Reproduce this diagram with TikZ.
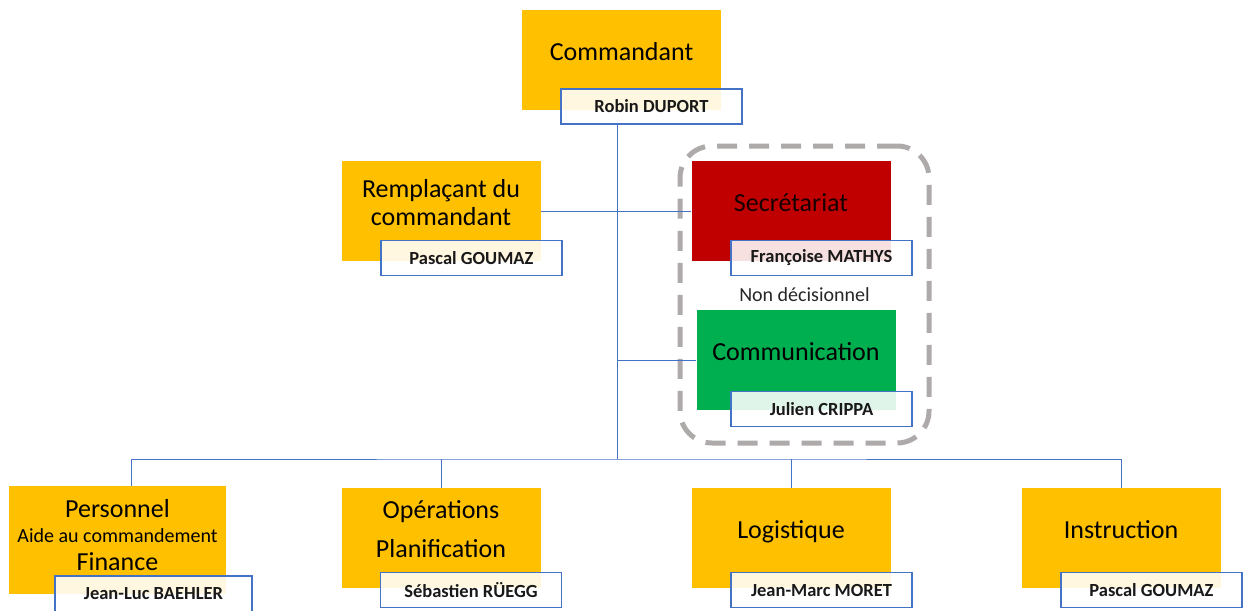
\documentclass[tikz,border=0pt]{standalone}
\usepackage{fontspec}
\setmainfont{Carlito}
\definecolor{boxorange}{RGB}{255,192,0}
\definecolor{boxred}{RGB}{192,0,0}
\definecolor{boxgreen}{RGB}{0,176,80}
\definecolor{lineblue}{RGB}{68,114,196}
\definecolor{framegray}{RGB}{174,170,170}
\begin{document}
\begin{tikzpicture}[x=1pt, y=-1pt,
	unit/.style={fill=boxorange, minimum width=199pt, minimum height=100pt, inner sep=0pt},
	title/.style={font=\fontsize{26}{28}\selectfont, align=center, inner sep=0pt, anchor=base},
	namebox/.style={draw=lineblue, line width=1.6pt, fill=white, fill opacity=0.88, text opacity=1,
		minimum width=181pt, minimum height=35pt, inner sep=0pt,
		font=\fontsize{18.5}{22}\selectfont\bfseries, text=black!90},
	link/.style={draw=lineblue, line width=1pt}]
				\useasboundingbox (0,0) rectangle (1244,610);
				
				%non decisional group
				\node (nondec) at (804.5,294.5) [draw=framegray, line width=5pt, dash pattern=on 20pt off 12pt,
					rounded corners=32pt, minimum width=249pt, minimum height=297pt,
					font=\fontsize{20}{24}\selectfont, text=black!85]{Non décisionnel};
				
				%boxes
				\node (cmd) at (621.5,60) [unit]{};
				\node (rempl) at (441,211) [unit]{};
				\node (secr) at (791,211) [unit, fill=boxred]{};
				\node (comm) at (796,360) [unit, fill=boxgreen]{};
				\node (pers) at (117.5,540) [unit, minimum width=217pt, minimum height=108pt]{};
				\node (ops) at (441,538) [unit]{};
				\node (logi) at (791,538) [unit]{};
				\node (instr) at (1121,538) [unit]{};
				
				%titles (multi-line ones sit on their last baseline)
				\node (cmdt) at (621.5,60) [title]{Commandant};
				\node (remplt) at (441,225) [title]{Remplaçant du\\commandant};
				\node (secrt) at (791,211) [title, text=black!90!red]{Secrétariat};
				\node (commt) at (796,360) [title]{Communication};
				\node (perst) at (117.5,570) [title]{Personnel\\[-3pt]{\fontsize{20}{26}\selectfont Aide au commandement}\\Finance};
				\node (opst) at (441,557) [title]{Opérations\\[11pt]Planification};
				\node (logit) at (791,538) [title]{Logistique};
				\node (instrt) at (1121,538) [title]{Instruction};
				
				%names
				\node (robin) at (651.5,106.5) [namebox]{Robin DUPORT};
				\node (pascalr) at (471.5,258) [namebox]{Pascal GOUMAZ};
				\node (francoise) at (821.5,258) [namebox]{Françoise MATHYS};
				\node (julien) at (821.5,409) [namebox]{Julien CRIPPA};
				\node (jeanluc) at (153.5,594) [namebox, minimum width=197pt, minimum height=36pt]{Jean-Luc BAEHLER};
				\node (sebastien) at (471,590) [namebox]{Sébastien RÜEGG};
				\node (jeanmarc) at (821.5,590) [namebox]{Jean-Marc MORET};
				\node (pascali) at (1151.5,590) [namebox]{Pascal GOUMAZ};
				
				%links
				\coordinate (bus) at (617,459);
				\draw[link] (robin.south -| bus) -- (bus);
				\draw[link] (rempl.east) -- (secr.west);
				\draw[link] (comm.west) -- (comm.west -| bus);
				\draw[link] ([xshift=13.5pt]pers.north) |- (bus) -| (instr.north);
				\foreach \n in {ops, logi}{
					\draw[link] (\n.north) -- (\n.north |- bus);
				}
\end{tikzpicture}
\end{document}
